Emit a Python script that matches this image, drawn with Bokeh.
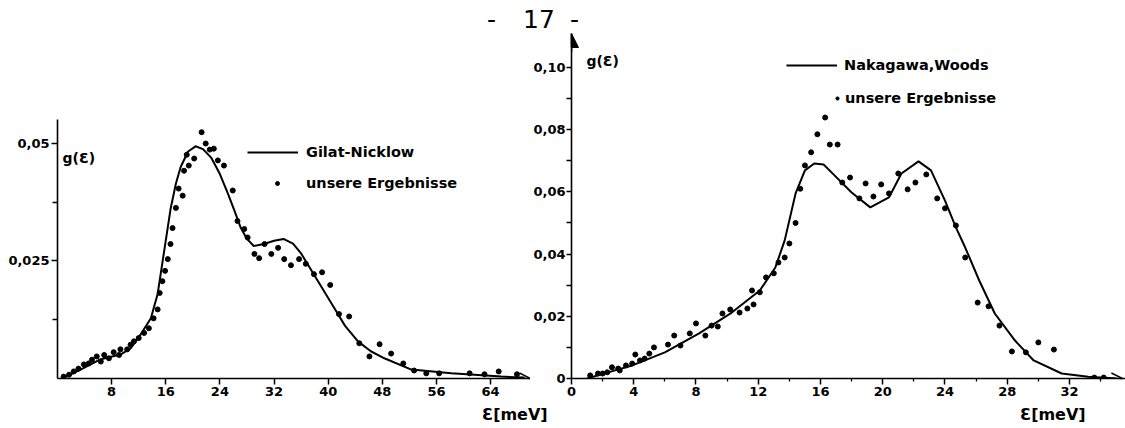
from bokeh.plotting import figure
from bokeh.layouts import row, column
from bokeh.models import (Range1d, FixedTicker, CustomJSTickFormatter, Legend, LegendItem,
                          Label, Arrow, NormalHead, OpenHead, Div)
from bokeh.embed import file_html
from bokeh.resources import INLINE

# ---------------- data: left panel (Gilat-Nicklow) ----------------
gn_E = [0.7, 3.4, 6.4, 9.3, 10.8, 12.3, 13.8, 14.8, 15.7, 16.7, 17.5, 18.2, 19.3, 20.4, 21.5,
        22.7, 24.0, 25.2, 26.2, 27.1, 28.0, 29.0, 30.5, 32.0, 33.4, 34.8, 36.0, 38.5, 40.9,
        42.5, 44.4, 46.3, 48.3, 52.3, 58.2, 65.6, 69.0]
gn_g = [0.0, 0.0019, 0.0041, 0.0051, 0.0064, 0.0094, 0.0128, 0.0180, 0.0265, 0.0360, 0.0415,
        0.0450, 0.0483, 0.0494, 0.0488, 0.0470, 0.0435, 0.0393, 0.0355, 0.0320, 0.0297,
        0.0282, 0.0286, 0.0293, 0.0297, 0.0287, 0.0266, 0.0207, 0.0150, 0.0112, 0.0079,
        0.0058, 0.0043, 0.0019, 0.0011, 0.0004, 0.0002]

ourL_E = [0.9, 1.7, 2.4, 3.1, 3.9, 4.6, 5.1, 5.8, 6.4, 6.9, 7.6, 8.3, 9.1, 9.3, 10.3, 10.8,
          11.3, 12.0, 12.8, 13.5, 14.2, 14.8, 15.1, 15.5, 15.9, 16.3, 16.7, 17.0, 17.5, 17.9,
          18.5, 18.7, 19.4, 19.1, 20.2, 21.3, 21.9, 22.5, 23.1, 23.7, 24.6, 25.9, 26.6, 27.6,
          28.1, 29.1, 29.8, 30.6, 31.6, 32.6, 33.5, 34.5, 35.7, 36.7, 37.9, 39.1, 40.3, 41.6,
          43.1, 44.6, 46.1, 47.6, 49.3, 51.1, 52.7, 54.5, 56.4, 60.9, 63.1, 65.2, 67.9]
ourL_g = [0.0004, 0.0008, 0.0015, 0.0021, 0.0030, 0.0032, 0.0040, 0.0047, 0.0036, 0.0050,
          0.0043, 0.0056, 0.0050, 0.0062, 0.0062, 0.0072, 0.0079, 0.0086, 0.0097, 0.0107,
          0.0128, 0.0147, 0.0182, 0.0207, 0.0229, 0.0254, 0.0286, 0.0320, 0.0363, 0.0404,
          0.0389, 0.0442, 0.0453, 0.0476, 0.0468, 0.0524, 0.0500, 0.0487, 0.0489, 0.0464,
          0.0453, 0.0400, 0.0335, 0.0318, 0.0300, 0.0265, 0.0256, 0.0286, 0.0265, 0.0278,
          0.0254, 0.0241, 0.0254, 0.0244, 0.0222, 0.0226, 0.0199, 0.0137, 0.0132, 0.0075,
          0.0047, 0.0073, 0.0053, 0.0032, 0.0017, 0.0011, 0.0011, 0.0011, 0.0009, 0.0015,
          0.0009]

# ---------------- data: right panel (Nakagawa, Woods) ----------------
nw_E = [1.0, 2.8, 3.9, 6.0, 8.2, 10.3, 12.1, 13.1, 13.7, 14.4, 15.0, 15.6, 16.2, 16.9, 18.0,
        19.2, 20.4, 21.2, 22.3, 23.1, 24.0, 24.7, 25.3, 26.2, 27.2, 28.5, 29.7, 31.5, 33.2, 35.0]
nw_g = [0.0, 0.0026, 0.0042, 0.0084, 0.0145, 0.0212, 0.0283, 0.0357, 0.0444, 0.0595, 0.0669,
        0.0691, 0.0688, 0.0653, 0.0598, 0.0550, 0.0582, 0.0659, 0.0698, 0.0669, 0.0572,
        0.0486, 0.0421, 0.0315, 0.0209, 0.0122, 0.0058, 0.0016, 0.0006, 0.0]

ourR_E = [1.2, 1.7, 2.0, 2.3, 2.6, 3.0, 3.1, 3.5, 3.9, 4.1, 4.4, 4.7, 5.0, 5.3, 6.2, 6.6, 7.0,
          7.6, 8.0, 8.6, 9.0, 9.4, 9.7, 10.2, 10.8, 11.3, 11.7, 11.6, 12.1, 12.5, 13.0, 13.3,
          13.7, 14.0, 14.4, 14.7, 15.0, 15.4, 15.8, 16.3, 16.6, 17.1, 17.4, 17.9, 18.5, 18.9,
          19.4, 19.9, 20.4, 21.0, 21.6, 22.1, 22.8, 23.5, 24.0, 24.7, 25.3, 26.1, 26.8, 27.5,
          28.3, 29.2, 30.0, 31.0, 33.6, 34.2]
ourR_g = [0.0010, 0.0016, 0.0016, 0.0020, 0.0036, 0.0032, 0.0026, 0.0042, 0.0048, 0.0077,
          0.0058, 0.0064, 0.0080, 0.0100, 0.0109, 0.0138, 0.0106, 0.0145, 0.0177, 0.0138,
          0.0170, 0.0167, 0.0209, 0.0222, 0.0212, 0.0225, 0.0238, 0.0283, 0.0277, 0.0325,
          0.0338, 0.0373, 0.0389, 0.0434, 0.0500, 0.0610, 0.0685, 0.0727, 0.0785, 0.0839,
          0.0752, 0.0752, 0.0630, 0.0646, 0.0579, 0.0627, 0.0585, 0.0624, 0.0595, 0.0659,
          0.0608, 0.0630, 0.0656, 0.0579, 0.0547, 0.0492, 0.0389, 0.0244, 0.0232, 0.0170,
          0.0087, 0.0084, 0.0116, 0.0093, 0.0003, 0.0003]

left_xticks = [8, 16, 24, 32, 40, 48, 56, 64]
left_yticks = [0.025, 0.05]
left_yminor = [0.0125, 0.0375]
right_xticks = [0, 4, 8, 12, 16, 20, 24, 28, 32]
right_xminor = [2, 6, 10, 14, 18, 22, 26, 30, 34]
right_yticks = [0.0, 0.02, 0.04, 0.06, 0.08, 0.10]
right_yminor = [0.01, 0.03, 0.05, 0.07, 0.09]

FONT = "DejaVu Sans"


def style_axes(p):
    for ax in (p.xaxis[0], p.yaxis[0]):
        ax.axis_line_width = 1.6
        ax.axis_line_color = "black"
        ax.major_tick_line_width = 1.5
        ax.minor_tick_line_width = 1.3
        ax.major_tick_in = 0
        ax.major_tick_out = 6
        ax.minor_tick_in = 0
        ax.minor_tick_out = 5
        ax.major_label_text_font = FONT
        ax.major_label_text_font_style = "bold"
        ax.major_label_text_font_size = "13px"
        ax.major_label_text_color = "black"
        ax.major_label_standoff = 2
    p.xgrid.visible = False
    p.ygrid.visible = False
    p.outline_line_color = None
    p.background_fill_color = "white"
    p.border_fill_color = "white"


def legend_box(p, label, rend, loc, gw, standoff):
    lg = Legend(items=[LegendItem(label=label, renderers=[rend])], location=loc,
                glyph_width=gw, glyph_height=20, label_height=20, label_standoff=standoff,
                padding=0, margin=0, spacing=0, border_line_color=None,
                background_fill_alpha=0, label_text_font=FONT, label_text_color="black",
                label_text_font_style="bold", label_text_font_size="14.5px")
    p.add_layout(lg)


def text(p, x, y, t, size="14px", align="left"):
    p.add_layout(Label(x=x, y=y, text=t, text_font=FONT, text_font_size=size,
                       text_font_style="bold", text_align=align, text_baseline="middle",
                       text_color="black"))


TOP = 33      # strip with the page number
BOTTOM = 25   # strip with the energy-axis units
H = 428 - TOP - BOTTOM

# ---------------- left figure ----------------
pL = figure(width=530, height=H, x_range=Range1d(0, 69.9), y_range=Range1d(0, 0.0734),
            min_border_left=57, min_border_right=0, min_border_top=0, min_border_bottom=25,
            output_backend="svg", toolbar_location=None)
style_axes(pL)
pL.yaxis[0].bounds = (0, 0.055)
pL.xaxis[0].ticker = FixedTicker(ticks=left_xticks, minor_ticks=[])
pL.yaxis[0].ticker = FixedTicker(ticks=left_yticks, minor_ticks=left_yminor)
pL.yaxis[0].formatter = CustomJSTickFormatter(code="return tick.toString().replace('.', ',');")

lineL = pL.line(gn_E, gn_g, line_color="black", line_width=2)
dotL = pL.scatter(ourL_E, ourL_g, size=5, color="black")
legend_box(pL, "Gilat-Nicklow", lineL, (190, 216), 51, 8)
legend_box(pL, "unsere Ergebnisse", dotL, (215, 185), 10, 24)

xL_end = pL.x_range.end
pL.add_layout(Arrow(end=OpenHead(size=11, line_width=1.5), x_start=xL_end - 3, y_start=0,
                    x_end=xL_end, y_end=0, line_width=1.6))
text(pL, 0.74, 0.047, "g(Ɛ)")

# ---------------- right figure ----------------
pR = figure(width=595, height=H, x_range=Range1d(0, 35.6), y_range=Range1d(0, 0.1109),
            min_border_left=40, min_border_right=0, min_border_top=0, min_border_bottom=25,
            output_backend="svg", toolbar_location=None)
style_axes(pR)
pR.yaxis[0].bounds = (0, 0.1109)
pR.yaxis[0].major_label_standoff = 1
pR.yaxis[0].major_tick_out = 5
pR.yaxis[0].minor_tick_out = 5
pR.xaxis[0].minor_tick_out = 3
pR.xaxis[0].ticker = FixedTicker(ticks=right_xticks, minor_ticks=right_xminor)
pR.yaxis[0].ticker = FixedTicker(ticks=right_yticks, minor_ticks=right_yminor)
pR.yaxis[0].formatter = CustomJSTickFormatter(
    code="return tick == 0 ? '0' : tick.toFixed(2).replace('.', ',');")

lineR = pR.line(nw_E, nw_g, line_color="black", line_width=2)
dotR = pR.scatter(ourR_E, ourR_g, size=5, color="black")
legend_box(pR, "Nakagawa,Woods", lineR, (215, 303), 51, 7)
legend_box(pR, "unsere Ergebnisse", dotR, (262, 270), 8, 4)

xR_end = pR.x_range.end
yR_top = pR.yaxis[0].bounds[1]
pR.add_layout(Arrow(end=OpenHead(size=11, line_width=1.5), x_start=xR_end - 1.5, y_start=0,
                    x_end=xR_end - 0.2, y_end=0, line_width=1.6))
pR.add_layout(Arrow(end=NormalHead(size=14, fill_color="black", line_color="black"),
                    x_start=0, y_start=yR_top - 0.006, x_end=0, y_end=yR_top, line_width=1.6))
text(pR, 0.96, 0.102, "g(Ɛ)")

# ---------------- page number on top ----------------
page = Div(text=('<div style="font-family:\'DejaVu Sans\';font-size:25px;line-height:26px;'
                 'padding:7px 0 0 487px;white-space:nowrap;color:black">'
                 '<span style="display:inline-block;width:36px">-</span>'
                 '<span style="display:inline-block;width:47px">17</span>'
                 '<span style="display:inline-block">-</span></div>'),
           width=1125, height=TOP, margin=0)

# ---------------- energy-axis unit labels below both panels ----------------
units = Div(text=('<div style="font-family:\'DejaVu Sans\';font-size:16px;font-weight:bold;'
                  'line-height:20px;padding:2px 0 0 482px;white-space:nowrap;color:black">'
                  '<span style="display:inline-block;width:538px">Ɛ[meV]</span>'
                  '<span style="display:inline-block">Ɛ[meV]</span></div>'),
            width=1125, height=BOTTOM, margin=0)

layout = column(page, row(pL, pR), units)
open("out.html", "w").write(file_html(layout, INLINE))
